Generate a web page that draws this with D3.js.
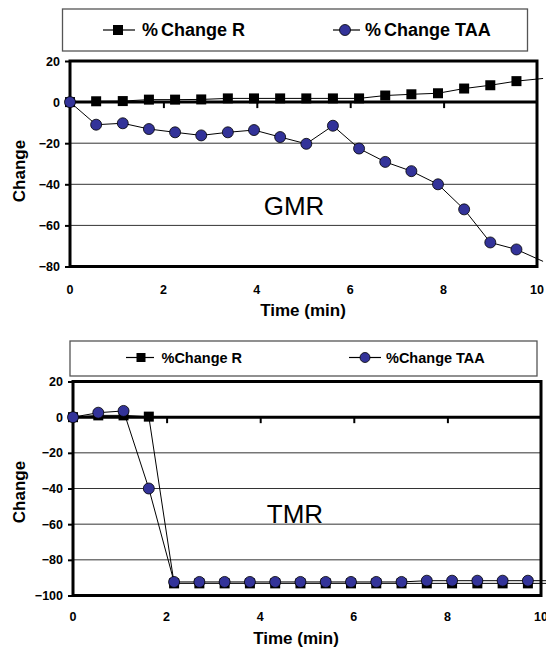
<!DOCTYPE html>
<html><head><meta charset="utf-8">
<script src="https://cdn.jsdelivr.net/npm/d3@7"></script>
<style>body{margin:0;background:#fff}svg{display:block}text{font-family:"Liberation Sans",Arial,sans-serif}</style>
</head><body>
<script>
// ---- data ----
const seriesNames = ["%Change R", "%Change TAA"];
const xTicks = [0, 2, 4, 6, 8, 10];
const gmrTicksY = [20, 0, -20, -40, -60, -80];
const tmrTicksY = [20, 0, -20, -40, -60, -80, -100];
const gmrTime = [0,0.56,1.13,1.69,2.25,2.81,3.38,3.94,4.5,5.06,5.63,6.19,6.75,7.31,7.88,8.44,9.0,9.56,10.13];
const gmrR    = [0,0.4,0.5,1.2,1.2,1.3,1.8,1.8,1.8,1.8,1.8,1.8,3.2,3.8,4.3,6.6,8.2,10.2,11.5];
const gmrTAA  = [0,-11,-10.3,-13.1,-14.7,-16.2,-14.7,-13.6,-17,-20.3,-11.5,-22.6,-29.1,-33.6,-40,-52.2,-68.3,-71.7,-77.5];
const tmrTime = [0,0.54,1.08,1.62,2.16,2.7,3.24,3.78,4.32,4.86,5.4,5.94,6.48,7.02,7.56,8.1,8.64,9.18,9.72,10.26];
const tmrR    = [0,1,1,0.3,-93.2,-93.2,-93.2,-93.2,-93.2,-93.2,-93.2,-93.2,-93.2,-93.2,-93.2,-93.2,-93.2,-93.2,-93.2,-93.2];
const tmrTAA  = [0,2.5,3.5,-40,-92.4,-92.4,-92.4,-92.4,-92.4,-92.4,-92.4,-92.4,-92.4,-92.4,-91.7,-91.7,-91.7,-91.7,-91.7,-91.7];

const svg = d3.select("body").append("svg").attr("width",546).attr("height",649);

function chart(cfg){
  const g = svg.append("g");
  const x = d3.scaleLinear().domain([0,10]).range([cfg.x0,cfg.x1]);
  const y = d3.scaleLinear().domain(cfg.yDomain).range([cfg.y1,cfg.y0]);
  // legend
  const L = cfg.legend;
  g.append("rect").attr("x",L.x).attr("y",L.y).attr("width",L.w).attr("height",L.h)
    .attr("fill","#fff").attr("stroke","#555").attr("stroke-width",1.3);
  L.items.forEach((it,i)=>{
    g.append("line").attr("x1",it.l1).attr("x2",it.l2).attr("y1",L.cy).attr("y2",L.cy).attr("stroke","#000").attr("stroke-width",1.2);
    if(i===0) g.append("rect").attr("x",it.m-L.ms/2).attr("y",L.cy-L.ms/2).attr("width",L.ms).attr("height",L.ms).attr("fill","#000");
    else g.append("circle").attr("cx",it.m).attr("cy",L.cy).attr("r",L.ms/2+0.5).attr("fill","#333399").attr("stroke","#000").attr("stroke-width",0.8);
    const t = g.append("text").attr("x",it.t).attr("y",L.cy).attr("dy","0.35em")
      .attr("font-size",L.fs).attr("font-weight","bold").attr("fill","#000");
    if(L.gap){ t.append("tspan").text(seriesNames[i].slice(0,1)); t.append("tspan").attr("dx",L.gap).text(seriesNames[i].slice(1)); }
    else t.text(seriesNames[i]);
  });
  // gridlines
  g.selectAll(null).data(cfg.yTicks.filter(v=>v<0 && v>cfg.yDomain[0])).enter().append("line")
    .attr("x1",cfg.x0).attr("x2",cfg.x1).attr("y1",d=>y(d)).attr("y2",d=>y(d))
    .attr("stroke","#333").attr("stroke-width",1);
  // y axis ticks + labels
  const ya = d3.axisLeft(y).tickValues(cfg.yTicks).tickSize(5).tickPadding(5).tickFormat(d3.format("d"));
  const yg = g.append("g").attr("transform",`translate(${cfg.x0},0)`).call(ya);
  yg.select(".domain").remove();
  yg.selectAll(".tick line").attr("stroke","#000").attr("stroke-width",2);
  yg.selectAll(".tick text").attr("font-size",12.5).attr("font-weight","bold").attr("fill","#000").attr("font-family","Liberation Sans, Arial");
  // x axis line at 0 with ticks below
  const xa = d3.axisBottom(x).tickValues(xTicks.slice(1,-1)).tickSize(6).tickFormat("");
  const xg = g.append("g").attr("transform",`translate(0,${y(0)})`).call(xa);
  xg.select(".domain").remove();
  xg.selectAll(".tick line").attr("stroke","#000").attr("stroke-width",2);
  g.append("line").attr("x1",cfg.x0).attr("x2",cfg.x1).attr("y1",y(0)).attr("y2",y(0)).attr("stroke","#000").attr("stroke-width",3);
  // x tick labels (low position)
  g.selectAll(null).data(xTicks).enter().append("text")
    .attr("x",d=>x(d)).attr("y",cfg.xLabelY).attr("dy","0.35em").attr("text-anchor","middle")
    .attr("font-size",12.5).attr("font-weight","bold").text(d=>d);
  // border
  g.append("rect").attr("x",cfg.x0).attr("y",cfg.y0).attr("width",cfg.x1-cfg.x0).attr("height",cfg.y1-cfg.y0)
    .attr("fill","none").attr("stroke","#000").attr("stroke-width",3);
  // titles
  g.append("text").attr("x",cfg.xtX).attr("y",cfg.xtY).attr("dy","0.35em").attr("text-anchor","middle")
    .attr("font-size",17).attr("font-weight","bold").text("Time (min)");
  g.append("text").attr("transform",`translate(${cfg.ytX},${cfg.ytY}) rotate(-90)`).attr("dy","0.35em").attr("text-anchor","middle")
    .attr("font-size",17).attr("font-weight","bold").text("Change");
  g.append("text").attr("x",cfg.lbX).attr("y",cfg.lbY).attr("text-anchor","middle")
    .attr("font-size",26).text(cfg.label);
  // data
  const clipId = "clip"+cfg.label;
  svg.append("clipPath").attr("id",clipId).append("rect").attr("x",cfg.x0-8).attr("y",cfg.y0-8).attr("width",cfg.x1-cfg.x0+16).attr("height",cfg.y1-cfg.y0+16);
  const line = d3.line().x(d=>x(d[0])).y(d=>y(d[1]));
  const dR = cfg.time.map((t,i)=>[t,cfg.r[i]]);
  const dT = cfg.time.map((t,i)=>[t,cfg.taa[i]]);
  const dg = g.append("g").attr("clip-path",`url(#${clipId})`);
  dg.append("path").attr("d",line(dR)).attr("fill","none").attr("stroke","#000").attr("stroke-width",1);
  dg.selectAll(null).data(dR.filter(d=>d[0]<=10)).enter().append("rect")
    .attr("x",d=>x(d[0])-cfg.ms/2).attr("y",d=>y(d[1])-cfg.ms/2).attr("width",cfg.ms).attr("height",cfg.ms).attr("fill","#000");
  dg.append("path").attr("d",line(dT)).attr("fill","none").attr("stroke","#000").attr("stroke-width",1);
  dg.selectAll(null).data(dT.filter(d=>d[0]<=10)).enter().append("circle")
    .attr("cx",d=>x(d[0])).attr("cy",d=>y(d[1])).attr("r",cfg.ms/2+0.5).attr("fill","#333399").attr("stroke","#000").attr("stroke-width",0.8);
}

chart({x0:70,x1:537,y0:61,y1:266.5,yDomain:[-80,20],yTicks:gmrTicksY,xLabelY:290,
  xtX:303,xtY:310,ytX:19,ytY:171,lbX:294,lbY:215,label:"GMR",ms:10,
  time:gmrTime,r:gmrR,taa:gmrTAA,
  legend:{x:62.5,y:9,w:465,h:42,cy:30,ms:10,fs:18,gap:3,items:[{l1:103,l2:135,m:118,t:142},{l1:333,l2:360,m:345,t:365}]}});
chart({x0:73,x1:541,y0:381.5,y1:595.5,yDomain:[-100,20],yTicks:tmrTicksY,xLabelY:617,
  xtX:296,xtY:638,ytX:19,ytY:492,lbX:295,lbY:523,label:"TMR",ms:10,
  time:tmrTime,r:tmrR,taa:tmrTAA,
  legend:{x:70,y:341,w:467,h:35,cy:357.5,ms:9,fs:14.5,gap:0,items:[{l1:126,l2:154,m:141,t:161.5},{l1:349,l2:381,m:365,t:386}]}});
</script>
</body></html>
